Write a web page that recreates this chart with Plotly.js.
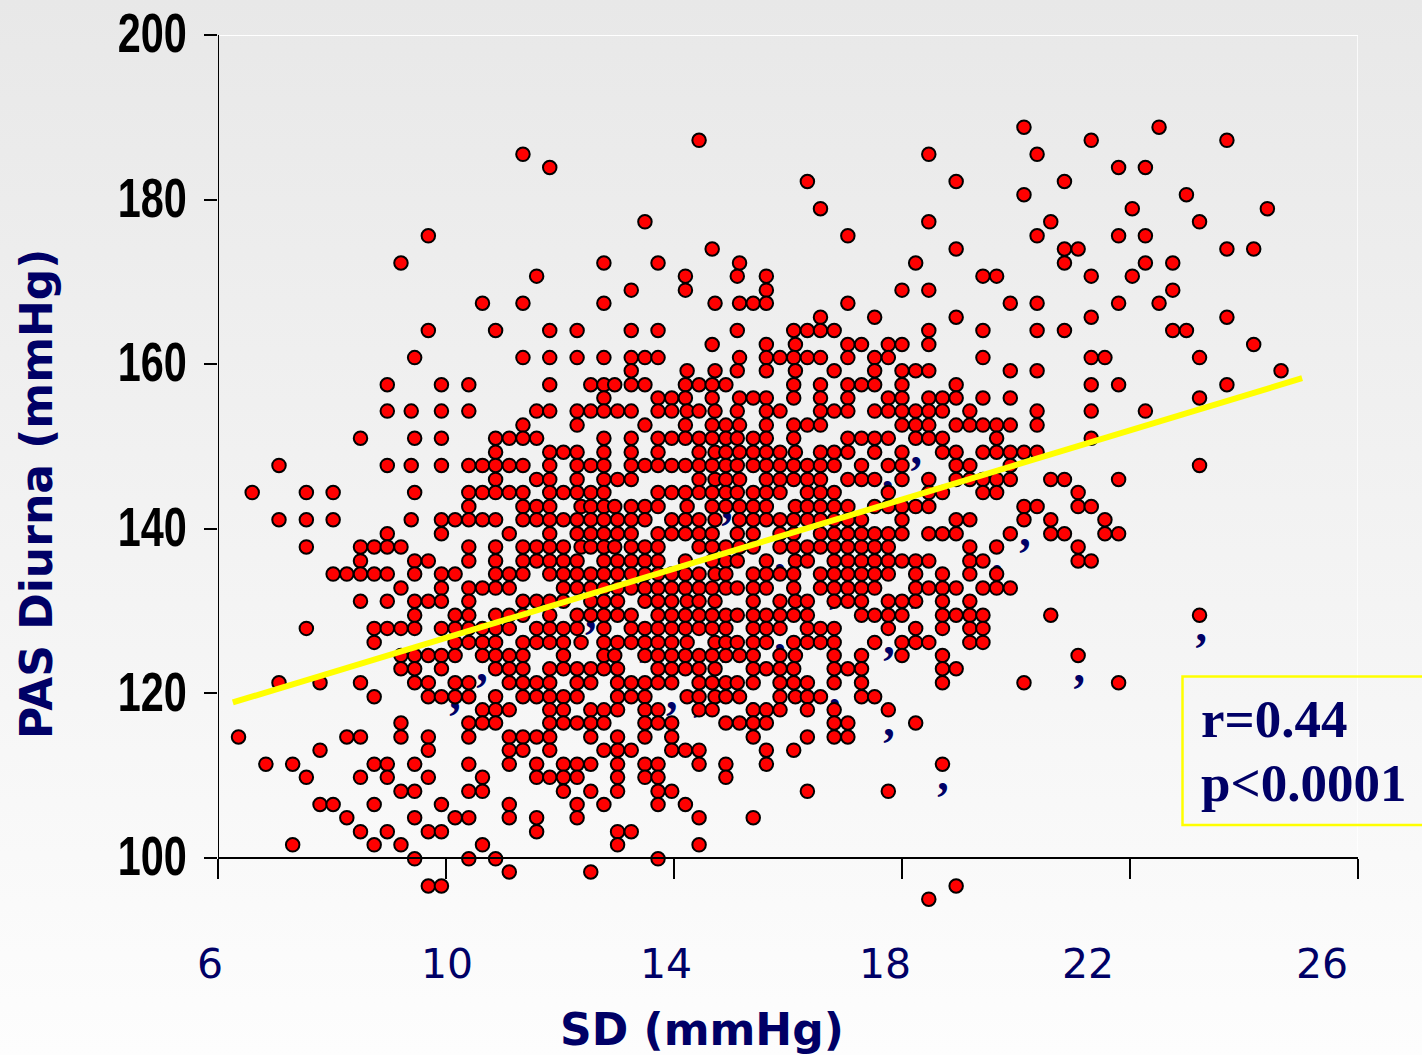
<!DOCTYPE html>
<html>
<head>
<meta charset="utf-8">
<script src="https://cdn.plot.ly/plotly-3.0.1.min.js"></script>
<style>
html,body{margin:0;padding:0;width:1422px;height:1055px;overflow:hidden;background:linear-gradient(to bottom,#e8e8e8 0,#fdfdfd 1055px);}
#chart{width:1422px;height:1055px;}
</style>
</head>
<body>
<div id="chart"></div>
<script>
// PAS levels (readings are quantised), top to bottom
const pasLevels = [188.8,187.2,185.5,183.9,182.2,180.6,178.9,177.3,175.6,174.0,172.3,170.7,169.0,167.4,165.7,164.1,162.4,160.8,159.2,157.5,155.9,154.3,152.6,151.0,149.3,147.7,146.0,144.4,142.7,141.1,139.4,137.8,136.1,134.5,132.8,131.2,129.5,127.9,126.2,124.6,123.0,121.3,119.6,118.0,116.4,114.7,113.1,111.4,109.8,108.1,106.5,104.9,103.2,101.6,99.9,98.3,96.6,95.0];
// SD values seen at each PAS level
const sdAtLevel = [
[20.14,22.51],
[14.44,21.32,23.70],
[11.35,18.47,20.37],
[11.82,21.80,22.27],
[16.34,18.95,20.85],
[20.14,22.99],
[16.57,22.04,24.41],
[13.49,18.47,20.61,23.22],
[9.69,17.05,20.37,21.80,22.27],
[14.67,18.95,20.85,21.09,23.70,24.17],
[9.21,12.77,13.72,15.15,18.24,20.85,22.27,22.75],
[11.59,14.20,15.11,15.62,19.42,19.66,21.32,22.04],
[13.25,14.20,15.62,18.00,18.47,22.75],
[10.64,11.35,12.77,14.72,15.15,15.39,15.62,17.05,19.90,20.37,21.80,22.51],
[16.57,17.52,18.95,21.32,23.70],
[9.69,10.87,11.82,12.30,13.25,13.72,15.11,16.10,16.34,16.57,16.81,18.47,19.42,20.37,20.85,22.75,22.99],
[14.67,15.62,16.13,17.05,17.29,17.76,18.00,18.47,24.17],
[9.45,11.35,11.82,12.30,12.77,13.25,13.49,13.72,15.15,15.62,15.86,16.10,16.34,16.57,17.05,17.52,17.76,19.42,21.32,21.56,23.22],
[13.25,14.23,14.72,15.11,15.62,16.13,16.81,17.52,18.00,18.24,18.47,19.90,20.37,24.65],
[8.97,9.92,10.40,11.82,12.54,12.77,12.96,13.25,13.49,14.20,14.44,14.67,14.91,16.10,16.57,17.05,17.29,17.52,18.00,18.95,21.32,21.80,23.70],
[12.77,13.72,13.96,14.20,14.67,15.15,15.39,15.62,16.10,16.57,17.05,17.76,18.00,18.47,18.71,18.95,19.42,19.90,23.22],
[8.97,9.39,9.92,10.40,11.59,11.82,12.30,12.54,12.77,13.01,13.25,13.72,13.96,14.23,14.44,14.72,15.11,15.62,15.86,16.57,16.81,17.05,17.52,17.76,18.00,18.24,18.47,18.71,19.19,20.37,21.32,22.27],
[11.35,12.30,13.49,14.20,14.67,14.91,15.15,15.62,16.10,16.34,16.57,18.00,18.24,18.47,18.95,19.19,19.42,19.66,19.90,20.37],
[8.50,9.45,9.92,10.87,11.11,11.35,11.59,12.77,13.25,13.72,13.96,14.20,14.44,14.67,14.91,15.11,15.39,15.62,16.10,17.05,17.29,17.52,17.76,18.24,18.47,18.71,19.66,21.32],
[10.87,11.82,12.06,12.30,12.77,13.25,13.72,14.44,14.72,14.91,15.15,15.39,15.62,15.86,16.13,16.57,16.81,17.05,17.52,18.00,18.71,18.95,19.42,19.66,19.90,20.14,20.37],
[7.07,8.97,9.39,9.92,10.40,10.64,10.87,11.11,11.35,11.82,12.30,12.54,12.77,13.25,13.49,13.72,13.96,14.20,14.44,14.67,14.91,15.11,15.39,15.62,15.86,16.10,16.34,16.57,16.81,17.29,17.76,18.00,18.95,19.19,19.90,23.22],
[10.87,11.59,11.82,12.30,12.77,13.01,13.25,14.44,14.72,14.91,15.15,15.62,15.86,16.10,16.34,16.57,17.05,17.29,17.52,18.00,18.47,18.95,19.19,19.42,19.66,19.90,20.61,20.85,21.80],
[6.60,7.55,8.02,9.45,10.40,10.64,10.87,11.11,11.35,11.82,12.06,12.30,12.54,12.77,13.72,13.96,14.20,14.44,14.67,14.91,15.11,15.39,15.62,15.86,16.34,16.57,16.81,17.76,18.47,18.71,19.42,19.66,21.09],
[10.40,11.35,11.59,11.82,12.37,12.54,12.77,12.96,13.25,13.49,13.72,14.23,14.67,14.91,15.15,15.39,15.62,16.13,16.34,16.57,16.81,17.05,17.52,17.76,18.00,18.24,18.47,20.14,20.37,21.09,21.32],
[7.07,7.55,8.02,9.39,9.92,10.16,10.40,10.64,10.87,11.35,11.59,11.82,12.06,12.30,12.54,12.77,13.01,13.25,13.49,13.96,14.20,14.44,14.72,15.15,15.39,15.62,15.86,16.10,16.34,16.57,16.81,17.05,17.29,18.00,18.95,19.19,20.14,20.61,21.56],
[8.97,9.92,11.11,11.82,12.30,12.54,12.77,13.01,13.25,13.72,13.96,14.20,14.44,14.67,15.11,15.39,15.86,16.10,16.57,16.81,17.05,17.29,17.52,17.76,18.00,18.47,18.71,18.95,19.90,20.61,20.85,21.56,21.80],
[7.55,8.50,8.74,8.97,9.21,10.40,10.87,11.35,11.59,11.82,12.06,12.37,12.54,12.77,12.96,13.25,13.49,13.72,14.44,14.67,14.91,15.15,15.39,15.86,16.10,16.34,16.57,16.81,17.05,17.29,17.52,17.76,19.19,19.66,21.09],
[8.50,9.45,9.69,10.40,10.87,11.35,11.59,11.82,12.06,12.30,12.77,13.01,13.25,13.49,13.72,14.20,14.67,14.91,15.11,15.62,16.13,16.34,16.81,17.05,17.29,17.52,17.76,18.00,18.24,18.47,19.19,19.42,21.09,21.32],
[8.02,8.26,8.50,8.74,8.97,9.45,9.92,10.16,10.87,11.11,11.35,11.82,12.06,12.30,12.54,12.77,13.01,13.25,13.49,13.72,13.96,14.20,14.44,14.72,14.91,15.39,15.62,15.86,16.10,16.57,16.81,17.05,17.29,17.52,17.76,18.24,18.71,19.19,19.66],
[9.21,9.92,10.40,10.64,10.87,11.11,12.06,12.30,12.54,12.77,13.01,13.25,13.49,13.72,13.96,14.20,14.44,14.67,14.91,15.11,15.39,15.62,16.10,16.57,16.81,17.05,17.29,17.52,18.24,18.47,18.71,18.95,19.42,19.66,19.90],
[8.50,8.97,9.45,9.69,9.92,10.40,11.35,11.59,11.82,12.06,12.54,12.77,13.01,13.49,13.72,13.96,14.23,14.44,14.72,15.39,15.86,16.13,16.34,16.81,17.05,17.29,17.76,18.00,18.24,18.71,19.19],
[9.45,10.16,10.40,10.87,11.11,11.35,11.82,12.30,12.54,12.77,13.01,13.25,13.72,13.96,14.20,14.44,14.67,14.91,15.11,15.39,15.62,15.86,16.10,16.34,17.29,17.52,17.76,18.00,18.71,18.95,19.19,19.42,20.61,23.22],
[7.55,8.74,8.97,9.21,9.45,9.92,10.16,10.40,10.64,10.87,11.11,11.59,11.82,12.06,12.30,12.77,13.25,13.49,13.72,13.96,14.20,14.44,14.67,14.91,15.39,15.62,15.86,16.34,16.57,16.81,17.76,18.24,18.71,19.19,19.42],
[8.74,10.16,10.40,10.64,10.87,11.35,11.59,11.82,12.06,12.37,12.77,13.01,13.25,13.49,13.72,13.96,14.23,14.72,14.91,15.11,15.39,15.62,16.10,16.34,16.57,16.81,17.52,18.00,18.24,18.47,19.19,19.42],
[9.21,9.45,9.69,9.92,10.16,10.64,10.87,11.11,11.35,12.06,12.77,12.96,13.49,13.72,13.96,14.20,14.44,14.67,14.91,15.15,15.39,15.86,16.13,16.81,17.29,18.00,18.71,21.09],
[9.21,9.45,9.92,10.87,11.11,11.35,11.82,12.06,12.30,12.54,12.77,13.01,13.72,13.96,14.20,14.44,14.72,15.39,15.62,15.86,16.10,16.81,17.05,17.29,18.71,18.95],
[7.07,7.79,8.50,9.45,9.69,10.16,10.40,11.11,11.35,11.59,11.82,12.30,12.54,13.01,13.25,13.49,13.72,13.96,14.44,14.67,14.91,15.11,15.39,15.86,16.10,16.34,16.81,17.29,18.71,20.14,21.80],
[8.74,9.69,9.92,10.16,10.40,10.87,11.35,11.59,11.82,12.06,12.30,13.01,13.25,13.49,14.23,14.44,14.72,14.91,15.15,15.86,16.13,16.34,16.57,17.29,17.52],
[10.64,10.87,11.11,11.82,12.06,12.54,12.77,13.01,13.49,13.72,14.44,14.67,15.39,15.62,15.86,16.34,16.81,17.76],
[9.21,10.40,10.64,10.87,11.82,12.06,12.30,12.54,12.77,13.49,13.72,13.96,14.91,15.15,15.39,15.62,16.81,17.05,18.24],
[6.36,8.26,8.50,9.21,9.69,10.40,11.11,11.35,11.59,11.82,12.54,13.01,13.49,13.96,15.39,16.34,16.81,17.05],
[7.79,9.69,11.11,11.35,11.82,12.77,13.01,13.25,13.96,14.20,14.44,15.62,16.10],
[6.84,7.31,8.74,8.97,9.45,10.40,11.11,11.59,12.06,12.30,12.54,13.01,13.49,13.72,14.44,14.91,15.62,18.71],
[7.55,8.50,8.97,9.69,10.64,11.59,11.82,12.06,12.30,13.01,13.49,13.72,14.91],
[9.21,9.45,10.40,10.64,12.06,12.54,13.01,13.72,13.96,16.34,17.76],
[7.79,8.02,8.74,9.92,11.11,12.30,12.77,13.72,14.20],
[8.26,9.45,10.16,10.40,11.11,11.59,12.30,14.44,15.39],
[8.50,8.97,9.69,9.92,11.59,13.01,13.25],
[7.31,8.74,9.21,10.64,13.01,14.44],
[9.45,10.40,10.87,13.72],
[11.11,12.54],
[9.69,9.92,18.95],
[18.47]
];
// The small navy comma marks partly hidden behind the dots (text anchor positions)
const commaSD  = [10.63,10.16,12.54,13.96,14.44,15.39,15.86,12.54,13.49,14.93,16.33,17.30,17.77,17.77,12.05,16.82,13.96,15.86,14.93,13.02,15.86,16.82,18.25,17.75,20.16,19.67,19.19,18.25,18.72,21.11,23.25];
const commaPAS = [122.9,119.5,129.4,119.5,119.3,119.5,119.6,112.8,126.0,126.0,129.4,122.9,126.2,116.2,109.9,119.9,129.9,126.6,142.6,136.3,136.3,132.4,149.3,146.3,139.3,136.1,132.6,132.5,109.7,122.8,127.8];
// Trend line ends
const trendSD  = [6.26,25.02];
const trendPAS = [118.9,158.3];
// Axis ticks
const xTicks = [6,10,14,18,22,26];
const yTicks = [100,120,140,160,180,200];
const xTickLabels = ['6','10','14','18','22','26'];
// Tick label centres in page pixels: the source slide has them drifting from the ticks
const xLabelCentres = [210,446.5,665.5,885,1088,1322];

const NAVY = '#000066';
const pointsX = [], pointsY = [];
pasLevels.forEach(function (p, i) { sdAtLevel[i].forEach(function (s) { pointsX.push(s); pointsY.push(p); }); });

const traces = [
  {type:'scatter',mode:'text',x:commaSD,y:commaPAS,text:commaSD.map(function(){return ',';}),
   textposition:'middle center',cliponaxis:false,hoverinfo:'skip',showlegend:false,
   textfont:{family:'"Liberation Serif",serif',size:46,color:NAVY,weight:700}},
  {type:'scatter',mode:'markers',x:pointsX,y:pointsY,cliponaxis:false,showlegend:false,
   marker:{color:'#ff0000',size:13.5,line:{color:'#000000',width:2}}},
  {type:'scatter',mode:'lines',x:trendSD,y:trendPAS,cliponaxis:false,showlegend:false,hoverinfo:'skip',
   line:{color:'#ffff00',width:6}}
];

const W = 1140, H = 870;
const px = function (v) { return (v - 218) / W; };
const py = function (v) { return 1 - (v - 35) / H; };

const annotations = xTickLabels.map(function (t, i) {
  return {xref:'paper',yref:'paper',x:px(xLabelCentres[i]),y:py(964),text:t,showarrow:false,xanchor:'center',yanchor:'middle',
          font:{family:'"DejaVu Sans",sans-serif',size:41,color:NAVY}};
});
annotations.push(
  {xref:'paper',yref:'paper',x:px(702),y:py(1029),text:'<b>SD (mmHg)</b>',showarrow:false,xanchor:'center',yanchor:'middle',
   font:{family:'"DejaVu Sans",sans-serif',size:44,color:NAVY}},
  {xref:'paper',yref:'paper',x:px(36),y:py(494),text:'<b>PAS Diurna (mmHg)</b>',textangle:-90,showarrow:false,xanchor:'center',yanchor:'middle',
   font:{family:'"DejaVu Sans",sans-serif',size:44,color:NAVY}},
  {xref:'paper',yref:'paper',x:px(1199),y:py(719),text:'<b>r=0.44</b>',showarrow:false,xanchor:'left',yanchor:'middle',
   font:{family:'"Liberation Serif",serif',size:53,color:NAVY}},
  {xref:'paper',yref:'paper',x:px(1199),y:py(783),text:'<b>p&lt;0.0001</b>',showarrow:false,xanchor:'left',yanchor:'middle',
   font:{family:'"Liberation Serif",serif',size:53,color:NAVY}}
);

const layout = {
  width:1422,height:1055,autosize:false,
  margin:{l:218,r:64,t:35,b:150,pad:0},
  paper_bgcolor:'rgba(0,0,0,0)',plot_bgcolor:'rgba(0,0,0,0)',
  showlegend:false,
  xaxis:{range:[6,26],anchor:'free',position:47/H,tickmode:'array',tickvals:xTicks,showticklabels:false,
         ticks:'outside',ticklen:20,tickwidth:1.5,tickcolor:'#000',showline:true,linecolor:'#000',linewidth:2,
         showgrid:false,zeroline:false},
  yaxis:{range:[94.29,200],tickmode:'array',tickvals:yTicks,ticks:'outside',ticklen:13,tickwidth:2,tickcolor:'#000',
         showline:false,showgrid:false,zeroline:false,ticklabelstandoff:6,
         tickfont:{family:'"Liberation Sans",sans-serif',size:56,color:'#000',weight:700}},
  shapes:[
    {type:'line',xref:'x',yref:'y',x0:6,x1:26,y0:200,y1:200,layer:'below',line:{color:'#ffffff',width:2}},
    {type:'line',xref:'x',yref:'y',x0:26,x1:26,y0:200,y1:100,layer:'below',line:{color:'#ffffff',width:1.5}},
    {type:'line',xref:'x',yref:'y',x0:6,x1:6,y0:200,y1:97.57,layer:'below',line:{color:'#000000',width:2}},
    {type:'rect',xref:'paper',yref:'paper',x0:px(1182.5),x1:px(1440),y0:py(676.5),y1:py(825),layer:'above',
     line:{color:'#ffff00',width:2.5},fillcolor:'rgba(0,0,0,0)'}
  ],
  annotations:annotations
};
Plotly.newPlot('chart',traces,layout,{displayModeBar:false,staticPlot:true}).then(function (gd) {
  // The source's y tick labels are set in a condensed face: narrow the real text in place
  gd.querySelectorAll('.ytick text').forEach(function (t) {
    const x = parseFloat(t.getAttribute('x')) || 0;
    const old = t.getAttribute('transform') || '';
    t.setAttribute('transform', old + ' translate(' + x + ',-2.5) scale(0.74,1) translate(' + (-x) + ',0)');
  });
});
</script>
</body>
</html>
